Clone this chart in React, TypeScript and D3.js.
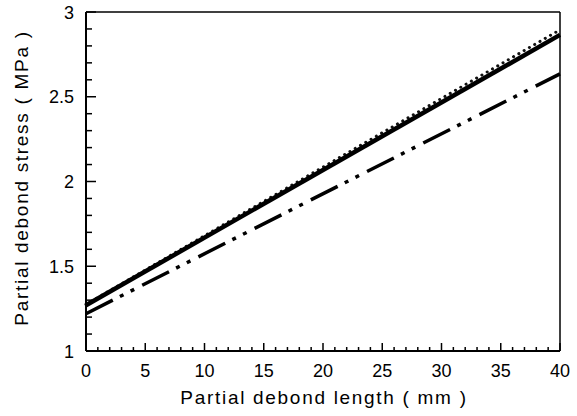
import React from "react";
import * as d3 from "d3";

const xDomain = [0, 40];
const yDomain = [1, 3];
const xTickLabels = [0, 5, 10, 15, 20, 25, 30, 35, 40];
const yTickLabels = [1, 1.5, 2, 2.5, 3];
const lengthMm = [0, 40];
const solidStress = [1.27, 2.865];
const dottedStress = [1.275, 2.895];
const dashDotStress = [1.22, 2.635];

const W = 577, H = 416;
const L = 86, R = 560, T = 12, B = 351;

export default function App() {
  const x = d3.scaleLinear().domain(xDomain).range([L, R]);
  const y = d3.scaleLinear().domain(yDomain).range([B, T]);
  const line = d3.line<number>().x((_, i) => x(lengthMm[i])).y((d) => y(d));
  const xMinor = d3.range(0, 41, 1);
  const yMinor = d3.range(10, 31, 1).map((v) => v / 10);
  const font = "'Liberation Sans', Arial, sans-serif";
  return (
    <svg width={W} height={H} style={{ position: "absolute", left: 0, top: 0, background: "#fff" }}>
      <rect x={0} y={0} width={W} height={H} fill="#fff" />
      {/* lines */}
      <path d={line(dottedStress) || ""} fill="none" stroke="#111" strokeWidth={3} strokeDasharray="0.1 6" strokeLinecap="round" />
      <path d={line(solidStress) || ""} fill="none" stroke="#000" strokeWidth={4.5} />
      <path d={line(dashDotStress) || ""} fill="none" stroke="#000" strokeWidth={3.5} strokeDasharray="30 8 4 8 4 9" />
      {/* frame */}
      <line x1={L} y1={T} x2={L} y2={B} stroke="#000" strokeWidth={2} />
      <line x1={L} y1={B} x2={R} y2={B} stroke="#000" strokeWidth={2} />
      <line x1={R} y1={T} x2={R} y2={B} stroke="#000" strokeWidth={1.5} />
      <line x1={L} y1={T} x2={R} y2={T} stroke="#000" strokeWidth={1.5} />
      {/* ticks */}
      {xMinor.map((v) => (
        <line key={"xt" + v} x1={x(v)} x2={x(v)} y1={B} y2={B - (v % 5 === 0 ? 8 : 4)} stroke="#000" strokeWidth={1.5} />
      ))}
      {yMinor.map((v) => (
        <line key={"yt" + v} x1={L} x2={L + (Math.round(v * 10) % 5 === 0 ? 10 : 6)} y1={y(v)} y2={y(v)} stroke="#000" strokeWidth={1.5} />
      ))}
      {xTickLabels.map((v) => (
        <text key={"xl" + v} x={x(v)} y={377} textAnchor="middle" fontFamily={font} fontSize={18} fill="#000">{v}</text>
      ))}
      {yTickLabels.map((v) => (
        <text key={"yl" + v} x={74} y={y(v) + 6.5} textAnchor="end" fontFamily={font} fontSize={18} fill="#000">{v}</text>
      ))}
      <text x={324} y={404} textAnchor="middle" fontFamily={font} fontSize={19} letterSpacing={1.7} fill="#000">Partial debond length ( mm )</text>
      <text transform={`translate(28,178) rotate(-90)`} textAnchor="middle" fontFamily={font} fontSize={19} letterSpacing={1.7} fill="#000">Partial debond stress ( MPa )</text>
    </svg>
  );
}
